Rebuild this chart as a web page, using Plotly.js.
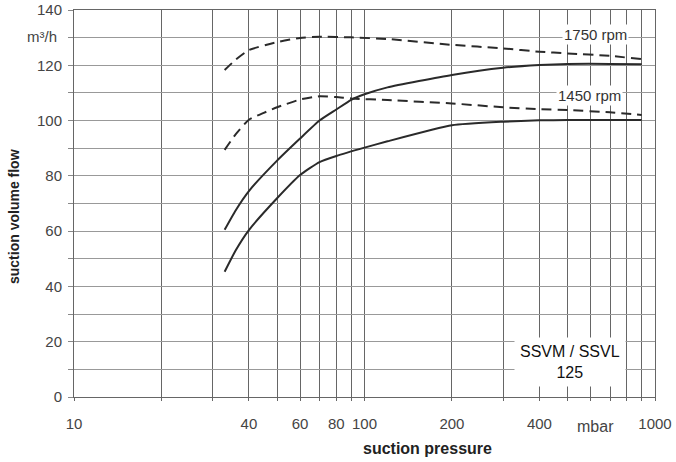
<!DOCTYPE html>
<html>
<head>
<meta charset="utf-8">
<script src="https://cdn.plot.ly/plotly-3.0.1.min.js"></script>
<style>html,body{margin:0;padding:0;background:#fff;}#chart{width:676px;height:462px;}</style>
</head>
<body>
<div id="chart"></div>
<script>
// suction pressure (mbar) / suction volume flow (m3/h)
const pressure1750Dashed = [33, 36, 40, 50, 60, 70, 90, 120, 200, 300, 400, 500, 700, 900];
const flow1750Dashed     = [118.3, 122, 125.5, 128.4, 129.9, 130.3, 130.1, 129.5, 127.4, 126.1, 124.9, 124.3, 123.4, 122.2];

const pressure1750Solid = [33, 36, 40, 50, 60, 70, 80, 90, 100, 120, 200, 300, 400, 500, 700, 900];
const flow1750Solid     = [60.5, 67.5, 74.5, 85.5, 93.5, 100, 104, 107.5, 109.5, 112, 116.5, 119.1, 120.1, 120.5, 120.5, 120.4];

const pressure1450Dashed = [33, 36, 40, 45, 50, 60, 70, 80, 90, 120, 200, 300, 400, 500, 700, 900];
const flow1450Dashed     = [89.4, 95, 100.3, 102.8, 104.8, 107.6, 108.8, 108.5, 108, 107.4, 106.2, 104.8, 104.1, 103.8, 103, 102];

const pressure1450Solid = [33, 36, 40, 50, 60, 70, 80, 100, 120, 200, 300, 400, 500, 700, 900];
const flow1450Solid     = [45.3, 53, 60.4, 71.9, 80.3, 85, 87.2, 90.2, 92.5, 98.3, 99.6, 100.1, 100.2, 100.2, 100.2];

const xGridValues = [10,20,30,40,50,60,70,80,90,100,200,300,400,500,600,700,800,900,1000];
const xLabelValues = [10, 40, 60, 80, 100, 200, 400, 1000];
const yTickValues = [0,10,20,30,40,50,60,70,80,90,100,110,120,130,140];
const yLabelValues = [0,20,40,60,80,100,120,140];

const lineColor = '#2a2a2a';
function trace(x, y, dash) {
  return {x: x, y: y, type: 'scatter', mode: 'lines',
    line: {color: lineColor, width: 2, dash: dash, shape: 'spline', smoothing: 0.5},
    hoverinfo: 'skip', showlegend: false};
}

const data = [
  trace(pressure1750Dashed, flow1750Dashed, '10px,6px'),
  trace(pressure1750Solid, flow1750Solid, 'solid'),
  trace(pressure1450Dashed, flow1450Dashed, '10px,6px'),
  trace(pressure1450Solid, flow1450Solid, 'solid')
];

const fam = 'Liberation Sans, Arial, sans-serif';
const tickFont = {family: fam, size: 15, color: '#444'};

const plotL = 74, plotR = 21, plotT = 10, plotB = 65;
const plotW = 676 - plotL - plotR, plotH = 462 - plotT - plotB;

const layout = {
  width: 676, height: 462,
  margin: {l: plotL, r: plotR, t: plotT, b: plotB},
  paper_bgcolor: '#fff', plot_bgcolor: '#fff',
  font: {family: fam},
  xaxis: {
    type: 'log', range: [1, 3],
    tickvals: xGridValues,
    ticktext: xGridValues.map(v => xLabelValues.includes(v) ? String(v) : ''),
    tickfont: tickFont,
    showgrid: true, gridcolor: '#666', gridwidth: 1,
    showline: true, linecolor: '#666', linewidth: 1, mirror: true,
    ticks: 'outside', ticklen: 3, tickcolor: '#666',
    ticklabelstandoff: 10,
    zeroline: false
  },
  yaxis: {
    range: [0, 140],
    tickvals: yTickValues,
    ticktext: yTickValues.map(v => yLabelValues.includes(v) ? String(v) : ''),
    tickfont: tickFont,
    showgrid: true, gridcolor: '#999', gridwidth: 1,
    showline: true, linecolor: '#666', linewidth: 1, mirror: true,
    ticks: 'outside', ticklen: 5, tickcolor: '#888',
    ticklabelstandoff: 3,
    zeroline: false
  },
  annotations: [
    {text: '1750 rpm', x: Math.log10(625), y: 131.2, xref: 'x', yref: 'y', showarrow: false,
     font: {family: fam, size: 15, color: '#333'}, bgcolor: '#fff', borderpad: 1},
    {text: '1450 rpm', x: Math.log10(597), y: 109, xref: 'x', yref: 'y', showarrow: false,
     font: {family: fam, size: 15, color: '#333'}, bgcolor: '#fff', borderpad: 1},
    {text: 'SSVM / SSVL<br>125', x: Math.log10(510), y: 12.7, xref: 'x', yref: 'y', showarrow: false,
     font: {family: fam, size: 16, color: '#111'}, bgcolor: '#fff', borderpad: 5, align: 'center'},
    {text: 'm³/h', x: -(plotL - 59) / plotW, xanchor: 'right', y: 130.3, xref: 'paper', yref: 'y', showarrow: false,
     font: {family: fam, size: 15, color: '#444'}},
    {text: 'mbar', x: Math.log10(625), y: -(426 - 397) / plotH, yanchor: 'middle', xref: 'x', yref: 'paper', showarrow: false,
     font: {family: fam, size: 16, color: '#444'}},
    {text: '<b>suction pressure</b>', x: (427 - plotL) / plotW, xanchor: 'center', xref: 'paper',
     y: -(448 - 397) / plotH, yanchor: 'middle', yref: 'paper', showarrow: false,
     font: {family: fam, size: 16, color: '#222'}},
    {text: '<b>suction volume flow</b>', textangle: -90, x: -(plotL - 14) / plotW, xanchor: 'center', xref: 'paper',
     y: 1 - (217 - plotT) / plotH, yanchor: 'middle', yref: 'paper', showarrow: false,
     font: {family: fam, size: 14, color: '#222'}}
  ]
};

Plotly.newPlot('chart', data, layout, {staticPlot: true});
</script>
</body>
</html>
